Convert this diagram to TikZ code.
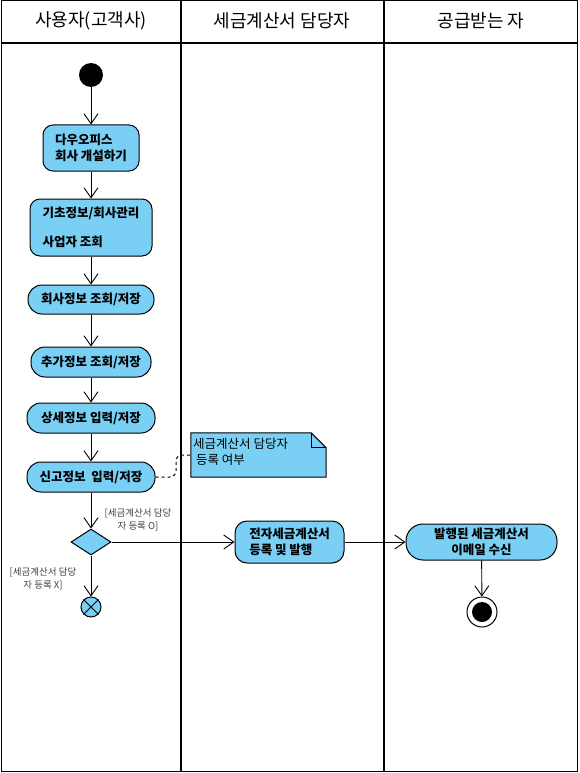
\documentclass[tikz,border=0pt]{standalone}
\usepackage{fontspec}
\setmainfont{Noto Sans CJK KR}
\usetikzlibrary{arrows.meta,shapes.geometric}
\definecolor{actblue}{HTML}{79CFF4}
\tikzset{
  lane/.style={line width=1.5pt},
  act/.style={draw, line width=1pt, fill=actblue, rounded corners=10pt, inner sep=2pt,
    font=\bfseries\fontsize{12.5}{15.5}\selectfont},
  pill/.style={act, rounded corners=14pt},
  flow/.style={line width=0.9pt, -{Straight Barb[length=10pt,width=14pt,line width=0.9pt]}},
  guard/.style={font=\fontsize{9.5}{13}\selectfont, text=black!75, align=center, inner sep=0pt},
  hdr/.style={font=\fontsize{18}{20}\selectfont, inner sep=0pt}
}
\begin{document}
\begin{tikzpicture}[x=1pt,y=-1pt]
\useasboundingbox (0,0) rectangle (579,773);
% frame and lanes
\draw[line width=1pt] (1,1) rectangle (577,771);
\draw[lane] (1,43) -- (577,43);
\draw[lane] (181,1) -- (181,771);
\draw[lane] (384,1) -- (384,771);
\node[hdr] (h1) at (91,21) {사용자(고객사)};
\node[hdr] (h2) at (282,21) {세금계산서 담당자};
\node[hdr] (h3) at (481,21) {공급받는 자};
% start
\node[circle, fill=black, minimum size=24pt, inner sep=0pt] (start) at (91,75) {};
% activities
\node[act, minimum width=96pt, minimum height=46pt, align=left] (a1) at (91,148) {다우오피스\\회사 개설하기};
\node[act, minimum width=122pt, minimum height=57pt, align=left] (a2) at (91,227.5) {기초정보/회사관리\\[14pt]사업자 조회};
\node[pill, minimum width=126pt, minimum height=29pt] (a3) at (91,299.5) {회사정보 조회/저장};
\node[pill, minimum width=120pt, minimum height=30pt] (a4) at (91,362) {추가정보 조회/저장};
\node[pill, minimum width=128pt, minimum height=30pt] (a5) at (91,418) {상세정보 입력/저장};
\node[pill, minimum width=128pt, minimum height=30pt] (a6) at (91,477) {신고정보\ \ 입력/저장};
% note
\node[minimum width=135pt, minimum height=44pt, inner sep=0pt] (note) at (258.5,455) {};
\draw[line width=1pt, fill=actblue] (note.north west) -- ([xshift=-15pt]note.north east) -- ([yshift=-15pt]note.north east) -- (note.south east) -- (note.south west) -- cycle;
\draw[line width=1pt] ([xshift=-15pt]note.north east) -- ([xshift=-15pt,yshift=-15pt]note.north east) -- ([yshift=-15pt]note.north east);
\node[anchor=north west, align=left, inner sep=0pt, font=\fontsize{12.5}{15.5}\selectfont] (notetext) at (193,438) {세금계산서 담당자\\\ 등록 여부};
\draw[line width=1pt, dashed, rounded corners=6pt] (a6.east) -- (176,477) -- (176,455) -- (note.west);
% decision
\node[diamond, draw, line width=1pt, fill=actblue, minimum width=40pt, minimum height=26pt, inner sep=0pt, aspect=1.5] (dec) at (91,542) {};
\node[circle, draw, line width=1pt, fill=actblue, minimum size=20pt, inner sep=0pt] (ff) at (91,607) {};
\draw[line width=1pt] (ff.45) -- (ff.225) (ff.135) -- (ff.315);
\node[guard] (g1) at (138,520) {[세금계산서 담당\\자 등록 O]};
\node[guard] (g2) at (43,579) {[세금계산서 담당\\자 등록 X]};
% other lanes
\node[act, rounded corners=12pt, minimum width=109pt, minimum height=42pt, align=left] (a7) at (289.5,542) {전자세금계산서\\등록 및 발행};
\node[act, rounded corners=17pt, minimum width=151pt, minimum height=36pt, align=center] (a8) at (481.5,542) {발행된 세금계산서\\이메일 수신};
\node[circle, draw, line width=1pt, fill=white, minimum size=30pt, inner sep=0pt] (end) at (482,612) {};
\node[circle, fill=black, minimum size=20pt, inner sep=0pt] (endin) at (482,612) {};
% flows
\draw[flow] (start) -- (a1);
\draw[flow] (a1) -- (a2);
\draw[flow] (a2) -- (a3);
\draw[flow] (a3) -- (a4);
\draw[flow] (a4) -- (a5);
\draw[flow] (a5) -- (a6);
\draw[flow] (a6) -- (dec);
\draw[flow] (dec) -- (ff);
\draw[flow] (dec) -- (a7);
\draw[flow] (a7) -- (a8);
\draw[flow] (a8) -- (end);
\end{tikzpicture}
\end{document}
